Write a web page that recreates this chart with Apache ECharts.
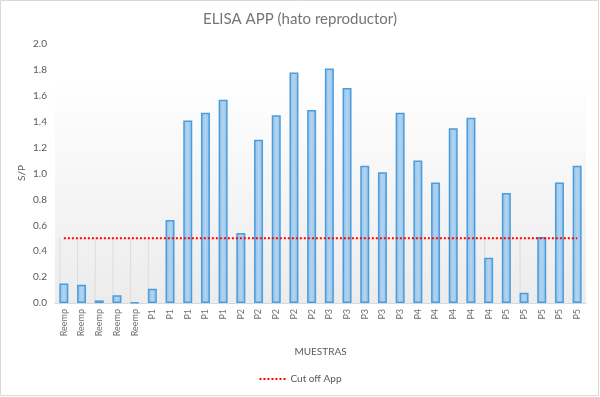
<!DOCTYPE html>
<html>
<head>
<meta charset="utf-8">
<script src="https://cdn.jsdelivr.net/npm/echarts@6/dist/echarts.min.js"></script>
<style>html,body{margin:0;padding:0;background:#fff}#c{width:600px;height:397px}</style>
</head>
<body>
<div id="c"></div>
<script>
const categories = ['Reemp','Reemp','Reemp','Reemp','Reemp','P1','P1','P1','P1','P1','P2','P2','P2','P2','P2','P3','P3','P3','P3','P3','P4','P4','P4','P4','P4','P5','P5','P5','P5','P5'];
const spValues = [0.15,0.14,0.02,0.06,0.005,0.11,0.64,1.41,1.47,1.57,0.54,1.26,1.45,1.78,1.49,1.81,1.66,1.06,1.01,1.47,1.10,0.93,1.35,1.43,0.35,0.85,0.08,0.51,0.93,1.06];
const cutOff = categories.map(() => 0.5);
const yTicks = [0,0.2,0.4,0.6,0.8,1.0,1.2,1.4,1.6,1.8,2.0];

const chart = echarts.init(document.getElementById('c'), null, {renderer:'canvas'});
const font = 'Lato, "Open Sans", sans-serif';
chart.setOption({
  animation:false,
  backgroundColor:'#ffffff',
  graphic:[
    {type:'rect',shape:{x:0.5,y:0.5,width:598,height:395},style:{fill:'none',stroke:'#d9d9d9',lineWidth:1},silent:true},
    {type:'text',x:22,y:173,rotation:Math.PI/2,style:{text:'S/P',font:'10px '+font,fill:'#595959',align:'center',verticalAlign:'middle'},silent:true}
  ],
  title:{text:'ELISA APP (hato reproductor)',left:'center',top:7,textStyle:{fontFamily:font,fontSize:15,fontWeight:'normal',color:'#757575'}},
  grid:{left:55,right:14,top:44,bottom:94,show:true,borderWidth:0,
    backgroundColor:{type:'linear',x:0,y:0,x2:0,y2:1,colorStops:[{offset:0,color:'#ffffff'},{offset:0.12,color:'#ffffff'},{offset:1,color:'#ececec'}]}},
  legend:{data:[{name:'Cut off App',itemStyle:{opacity:0}}],bottom:8,left:'center',itemWidth:26,itemHeight:10,textStyle:{fontFamily:font,fontSize:10,color:'#595959'}},
  xAxis:{type:'category',data:categories,name:'MUESTRAS',nameLocation:'middle',nameGap:44,
    nameTextStyle:{fontFamily:font,fontSize:10,color:'#595959'},
    axisLine:{lineStyle:{color:'#d9d9d9'}},axisTick:{show:false},
    axisLabel:{interval:0,rotate:90,fontFamily:font,fontSize:9,color:'#6f6f6f',margin:6}},
  yAxis:{type:'value',min:0,max:2,interval:0.2,
    axisLine:{show:false},axisTick:{show:false},splitLine:{show:false},
    axisLabel:{fontFamily:font,fontSize:10,color:'#595959',margin:8,formatter:v=>v.toFixed(1)}},
  series:[
    {name:'drop',type:'bar',data:cutOff,barWidth:1,barGap:'-100%',silent:true,z:1,
      itemStyle:{color:'#dcdcdc'}},
    {name:'S/P',type:'bar',data:spValues,barWidth:9,barGap:'-100%',z:2,
      itemStyle:{color:{type:'linear',x:0,y:0,x2:1,y2:0,colorStops:[{offset:0,color:'#8ebfe8'},{offset:0.5,color:'#b3d4f0'},{offset:1,color:'#8ebfe8'}]},
        borderColor:'#4c9ddc',borderWidth:1.5}},
    {name:'Cut off App',type:'line',data:cutOff,symbol:'none',z:3,
      lineStyle:{color:'#ff0000',width:2,type:[2,2]},itemStyle:{color:'#ff0000'}}
  ]
});
</script>
</body>
</html>
